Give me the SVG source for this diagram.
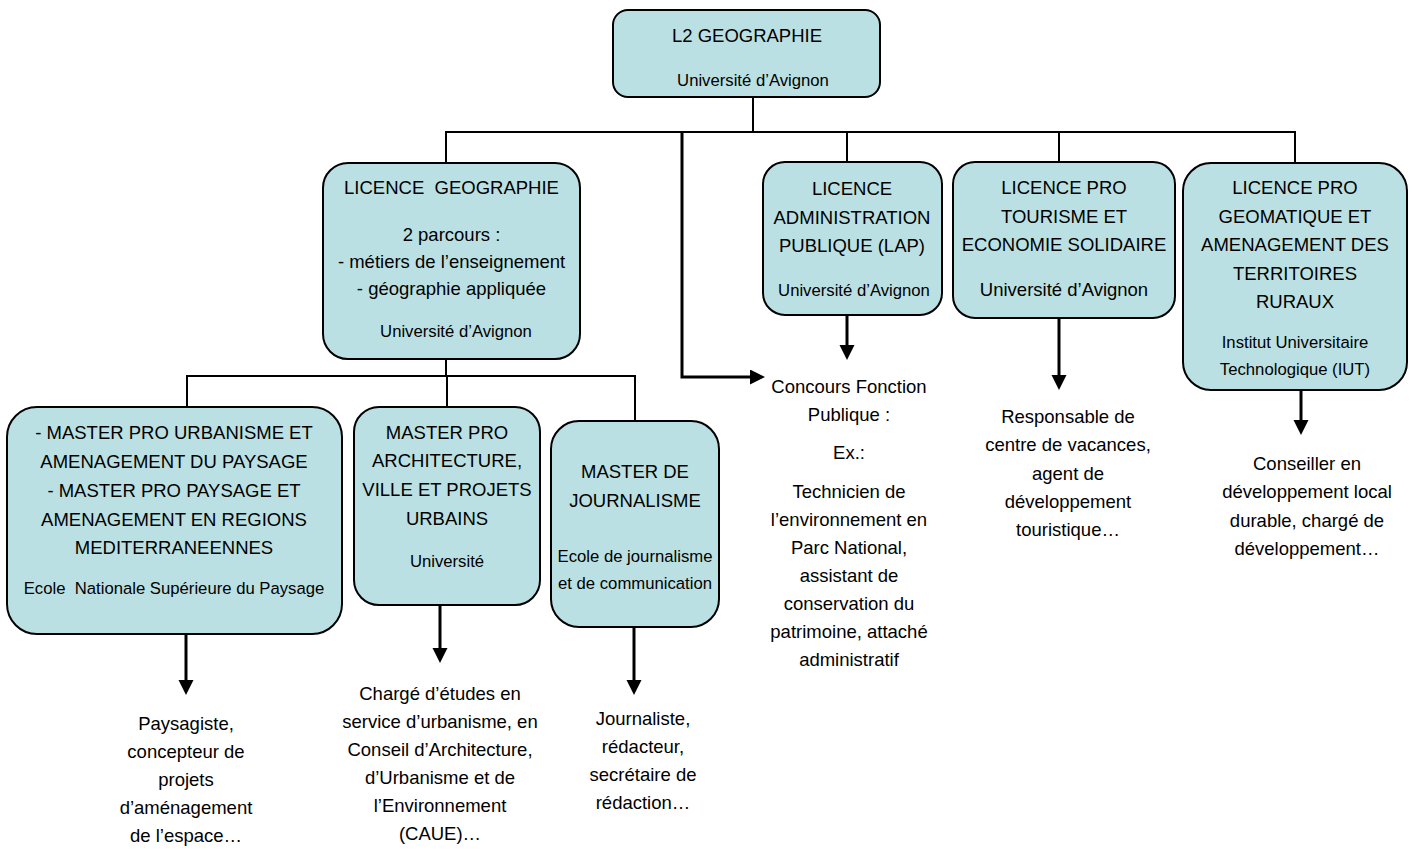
<svg xmlns="http://www.w3.org/2000/svg" width="1413" height="850" viewBox="0 0 1413 850">
<style>
text{font-family:"Liberation Sans",Arial,sans-serif;fill:#000;text-anchor:middle;white-space:pre}
.t{font-size:18.5px}
.s{font-size:16.7px}
.box{fill:#bbe0e3;stroke:#000;stroke-width:2}
.con{fill:none;stroke:#000;stroke-width:2}
.arr{fill:none;stroke:#000;stroke-width:3}
</style>
<defs>
<marker id="ah" markerUnits="userSpaceOnUse" markerWidth="16" markerHeight="16" refX="7" refY="7.5" orient="auto">
<path d="M0,0 L15,7.5 L0,15 z" fill="#000"/>
</marker>
</defs>
<rect width="1413" height="850" fill="#fff"/>
<g id="connectors">
<path class="con" d="M753,97 V132 M446,163 V132 H1295 V163 M847,132 V162 M1059,132 V162"/>
<path class="con" d="M446,359 V376 M187,407 V376 H635 V421 M447,376 V407"/>
<path class="arr" d="M682,132 V377 H757" marker-end="url(#ah)"/>
<path class="arr" d="M186,634 V687" marker-end="url(#ah)"/>
<path class="arr" d="M440,605 V655" marker-end="url(#ah)"/>
<path class="arr" d="M634,627 V687" marker-end="url(#ah)"/>
<path class="arr" d="M847,315 V352" marker-end="url(#ah)"/>
<path class="arr" d="M1059,318 V382" marker-end="url(#ah)"/>
<path class="arr" d="M1301,390 V427" marker-end="url(#ah)"/>
</g>
<g id="l2">
<rect class="box" x="613" y="10" width="267" height="87" rx="15"/>
<text class="t" x="747" y="42">L2 GEOGRAPHIE</text>
<text class="s" x="753" y="86">Université d’Avignon</text>
</g>
<g id="licence-geo">
<rect class="box" x="323" y="163" width="257" height="196" rx="25"/>
<text class="t" x="451.5" y="194">LICENCE  GEOGRAPHIE</text>
<text class="t" x="451.5" y="241">2 parcours :</text>
<text class="t" x="451.5" y="268">- métiers de l’enseignement</text>
<text class="t" x="451.5" y="295">- géographie appliquée</text>
<text class="s" x="456" y="337">Université d’Avignon</text>
</g>
<g id="lap">
<rect class="box" x="763" y="162" width="179" height="153" rx="22"/>
<text class="t" x="852" y="195">LICENCE</text>
<text class="t" x="852" y="224">ADMINISTRATION</text>
<text class="t" x="852" y="252">PUBLIQUE (LAP)</text>
<text class="s" x="854" y="296">Université d’Avignon</text>
</g>
<g id="tourisme">
<rect class="box" x="953" y="162" width="222" height="156" rx="22"/>
<text class="t" x="1064" y="194">LICENCE PRO</text>
<text class="t" x="1064" y="223">TOURISME ET</text>
<text class="t" x="1064" y="251">ECONOMIE SOLIDAIRE</text>
<text class="t" x="1064" y="296">Université d’Avignon</text>
</g>
<g id="geomatique">
<rect class="box" x="1183" y="163" width="224" height="227" rx="28"/>
<text class="t" x="1295" y="194">LICENCE PRO</text>
<text class="t" x="1295" y="223">GEOMATIQUE ET</text>
<text class="t" x="1295" y="251">AMENAGEMENT DES</text>
<text class="t" x="1295" y="280">TERRITOIRES</text>
<text class="t" x="1295" y="308">RURAUX</text>
<text class="s" x="1295" y="348">Institut Universitaire</text>
<text class="s" x="1295" y="375">Technologique (IUT)</text>
</g>
<g id="master-paysage">
<rect class="box" x="7" y="407" width="335" height="227" rx="30"/>
<text class="t" x="174" y="439">- MASTER PRO URBANISME ET</text>
<text class="t" x="174" y="468">AMENAGEMENT DU PAYSAGE</text>
<text class="t" x="174" y="497">- MASTER PRO PAYSAGE ET</text>
<text class="t" x="174" y="526">AMENAGEMENT EN REGIONS</text>
<text class="t" x="174" y="554">MEDITERRANEENNES</text>
<text class="s" x="174" y="594">Ecole  Nationale Supérieure du Paysage</text>
</g>
<g id="master-archi">
<rect class="box" x="354" y="407" width="186" height="198" rx="25"/>
<text class="t" x="447" y="439">MASTER PRO</text>
<text class="t" x="447" y="467">ARCHITECTURE,</text>
<text class="t" x="447" y="496">VILLE ET PROJETS</text>
<text class="t" x="447" y="525">URBAINS</text>
<text class="s" x="447" y="567">Université</text>
</g>
<g id="master-journalisme">
<rect class="box" x="551" y="421" width="168" height="206" rx="28"/>
<text class="t" x="635" y="478">MASTER DE</text>
<text class="t" x="635" y="507">JOURNALISME</text>
<text class="s" x="635" y="562">Ecole de journalisme</text>
<text class="s" x="635" y="589">et de communication</text>
</g>
<g id="concours">
<text class="t" x="849" y="393">Concours Fonction</text>
<text class="t" x="849" y="421">Publique :</text>
<text class="t" x="849" y="459">Ex.:</text>
<text class="t" x="849" y="498">Technicien de</text>
<text class="t" x="849" y="526">l’environnement en</text>
<text class="t" x="849" y="554">Parc National,</text>
<text class="t" x="849" y="582">assistant de</text>
<text class="t" x="849" y="610">conservation du</text>
<text class="t" x="849" y="638">patrimoine, attaché</text>
<text class="t" x="849" y="666">administratif</text>
</g>
<g id="paysagiste">
<text class="t" x="186" y="730">Paysagiste,</text>
<text class="t" x="186" y="758">concepteur de</text>
<text class="t" x="186" y="786">projets</text>
<text class="t" x="186" y="814">d’aménagement</text>
<text class="t" x="186" y="842">de l’espace…</text>
</g>
<g id="charge">
<text class="t" x="440" y="700">Chargé d’études en</text>
<text class="t" x="440" y="728">service d’urbanisme, en</text>
<text class="t" x="440" y="756">Conseil d’Architecture,</text>
<text class="t" x="440" y="784">d’Urbanisme et de</text>
<text class="t" x="440" y="812">l’Environnement</text>
<text class="t" x="440" y="840">(CAUE)…</text>
</g>
<g id="journaliste">
<text class="t" x="643" y="725">Journaliste,</text>
<text class="t" x="643" y="753">rédacteur,</text>
<text class="t" x="643" y="781">secrétaire de</text>
<text class="t" x="643" y="809">rédaction…</text>
</g>
<g id="responsable">
<text class="t" x="1068" y="423">Responsable de</text>
<text class="t" x="1068" y="451">centre de vacances,</text>
<text class="t" x="1068" y="480">agent de</text>
<text class="t" x="1068" y="508">développement</text>
<text class="t" x="1068" y="536">touristique…</text>
</g>
<g id="conseiller">
<text class="t" x="1307" y="470">Conseiller en</text>
<text class="t" x="1307" y="498">développement local</text>
<text class="t" x="1307" y="527">durable, chargé de</text>
<text class="t" x="1307" y="555">développement…</text>
</g>
</svg>
